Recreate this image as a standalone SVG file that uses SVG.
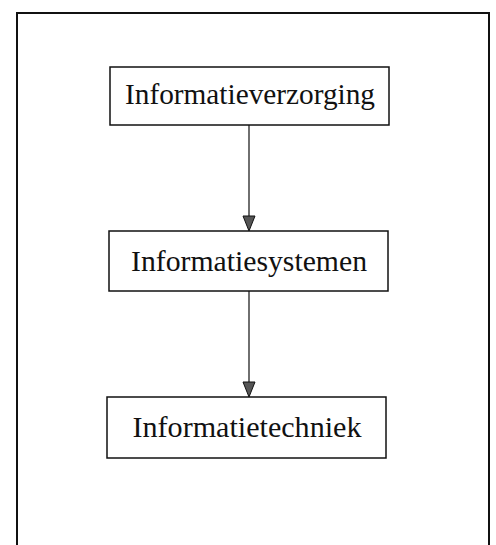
<svg xmlns="http://www.w3.org/2000/svg" width="496" height="545" viewBox="0 0 496 545">
<style>
.box{fill:#fff;stroke:#111;stroke-width:1.5}
.lbl{font-family:"Liberation Serif","Times New Roman",serif;font-size:28.5px;fill:#111;text-anchor:middle}
.conn{stroke:#222;stroke-width:1.3;fill:none}
.frame{stroke:#111;stroke-width:2;fill:none}
.head{fill:#555;stroke:#111;stroke-width:1}
</style>
<path class="frame" d="M17,545 L17,13 L489,13 L489,545"/>
<g id="connectors">
<line class="conn" x1="249" y1="125" x2="249" y2="216"/>
<path class="head" d="M243,216 L255,216 L249,231 Z"/>
<line class="conn" x1="249" y1="291" x2="249" y2="382"/>
<path class="head" d="M243,382 L255,382 L249,397 Z"/>
</g>
<g id="node1">
<rect class="box" x="110" y="67" width="279" height="58"/>
<text class="lbl" x="250" y="104" textLength="250" lengthAdjust="spacingAndGlyphs">Informatieverzorging</text>
</g>
<g id="node2">
<rect class="box" x="109" y="231" width="279" height="60"/>
<text class="lbl" x="249" y="271" textLength="236" lengthAdjust="spacingAndGlyphs">Informatiesystemen</text>
</g>
<g id="node3">
<rect class="box" x="107" y="397" width="279" height="61"/>
<text class="lbl" x="247" y="437" textLength="229" lengthAdjust="spacingAndGlyphs">Informatietechniek</text>
</g>
</svg>
